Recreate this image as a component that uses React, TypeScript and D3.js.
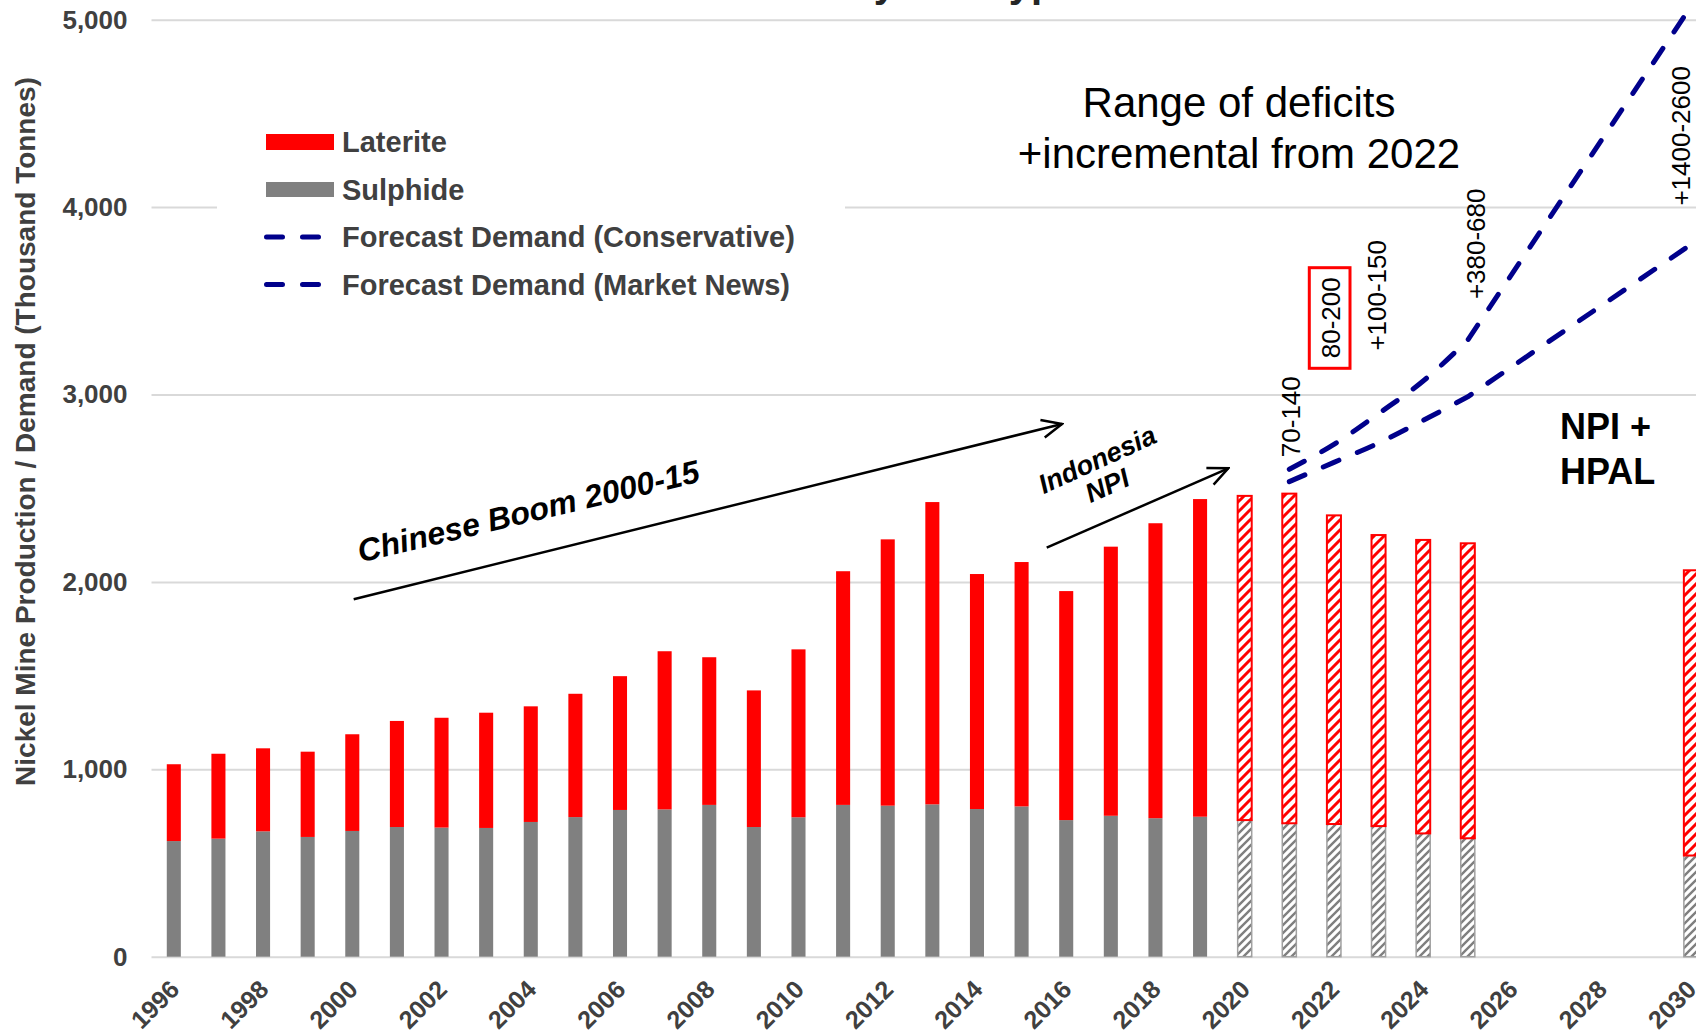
import { useEffect, useRef } from 'react';
import * as d3 from 'd3';

// Categories: one per year, 1996 - 2030
const years = [
  1996, 1997, 1998, 1999, 2000, 2001, 2002, 2003, 2004, 2005, 2006, 2007,
  2008, 2009, 2010, 2011, 2012, 2013, 2014, 2015, 2016, 2017, 2018, 2019,
  2020, 2021, 2022, 2023, 2024, 2025, 2026, 2027, 2028, 2029, 2030,
];

// Mine production (thousand tonnes)
const sulphide: (number | null)[] = [
  617, 630, 669, 639, 671, 692, 689, 687, 719, 745, 783, 786,
  810, 692, 744, 810, 806, 813, 788, 802, 729, 752, 739, 747,
  729, 712, 708, 697, 658, 632, null, null, null, null, 540,
];
const laterite: (number | null)[] = [
  410, 453, 443, 455, 516, 566, 586, 615, 617, 658, 714, 844,
  788, 729, 896, 1247, 1421, 1613, 1254, 1304, 1222, 1436, 1574, 1695,
  1730, 1759, 1647, 1553, 1566, 1574, null, null, null, null, 1522,
];

// Forecast demand (thousand tonnes)
const demandConservative: (number | null)[] = [
  null, null, null, null, null, null, null, null, null, null, null, null,
  null, null, null, null, null, null, null, null, null, null, null, null,
  null, 2535, 2638, 2741, 2862, 2988, null, null, null, null, 3800,
];
const demandMarketNews: (number | null)[] = [
  null, null, null, null, null, null, null, null, null, null, null, null,
  null, null, null, null, null, null, null, null, null, null, null, null,
  null, 2601, 2734, 2898, 3072, 3291, null, null, null, null, 5070,
];

const yTicks = [0, 1000, 2000, 3000, 4000, 5000];
const labelYears = years.filter(yr => yr % 2 === 0);
const firstForecastYear = 2020;

const W = 1696;
const H = 1033;
const FONT = '"Liberation Sans", Arial, Helvetica, sans-serif';
const AXIS_TEXT = '#404040';
const NAVY = '#00008b';

export default function App() {
  const svgRef = useRef<SVGSVGElement>(null);

  useEffect(() => {
    if (!svgRef.current) return;

    const svg = d3.select(svgRef.current);
    svg.selectAll('*').remove();

    const x = d3.scaleBand<number>()
      .domain(years)
      .range([151.5, 1713.2])
      .paddingInner(0.685)
      .paddingOuter(0.3425);
    const y = d3.scaleLinear().domain([0, 5000]).range([956.7, 19.7]);
    const cx = (yr: number) => (x(yr) as number) + x.bandwidth() / 2;

    // patterns + arrow marker
    const defs = svg.append('defs');
    const hatch = (id: string, color: string, size: number, sw: number) => {
      const p = defs.append('pattern')
        .attr('id', id)
        .attr('patternUnits', 'userSpaceOnUse')
        .attr('width', size)
        .attr('height', size);
      p.append('rect').attr('width', size).attr('height', size).attr('fill', '#fff');
      p.append('path')
        .attr('d', `M${-size / 4},${size / 4} l${size / 2},${-size / 2} M0,${size} l${size},${-size} M${size * 0.75},${size * 1.25} l${size / 2},${-size / 2}`)
        .attr('stroke', color)
        .attr('stroke-width', sw);
    };
    hatch('hatchRed', '#ff0000', 10, 3);
    hatch('hatchGray', '#7f7f7f', 8, 2.4);

    defs.append('marker')
      .attr('id', 'arrowHead')
      .attr('viewBox', '0 0 24 24')
      .attr('refX', 22)
      .attr('refY', 12)
      .attr('markerWidth', 24)
      .attr('markerHeight', 24)
      .attr('markerUnits', 'userSpaceOnUse')
      .attr('orient', 'auto')
      .append('path')
      .attr('d', 'M2,3 L22,12 L2,21')
      .attr('fill', 'none')
      .attr('stroke', '#000')
      .attr('stroke-width', 2.5);

    // title (cut off at the top of the picture, as in the original)
    svg.append('text')
      .attr('x', 396)
      .attr('y', -3)
      .attr('font-family', FONT)
      .attr('font-size', 40)
      .attr('font-weight', 'bold')
      .attr('fill', '#262626')
      .text('Nickel Mine Production by Ore Type');

    // gridlines + y labels
    const yAxis = svg.append('g')
      .attr('transform', 'translate(151.5,0)')
      .call(
        d3.axisLeft(y)
          .tickValues(yTicks)
          .tickSize(-(W - 151.5))
          .tickPadding(24)
          .tickFormat(d3.format(','))
      );
    yAxis.select('.domain').remove();
    yAxis.selectAll('line').attr('stroke', '#d9d9d9').attr('stroke-width', 2);
    yAxis.selectAll('text')
      .attr('font-family', FONT)
      .attr('font-size', 26)
      .attr('font-weight', 'bold')
      .attr('fill', AXIS_TEXT);

    // y axis title
    svg.append('text')
      .attr('transform', 'translate(35,431.5) rotate(-90)')
      .attr('text-anchor', 'middle')
      .attr('font-family', FONT)
      .attr('font-size', 28)
      .attr('font-weight', 'bold')
      .attr('fill', AXIS_TEXT)
      .text('Nickel Mine Production / Demand (Thousand Tonnes)');

    // x labels
    svg.append('g')
      .selectAll('text')
      .data(labelYears)
      .join('text')
      .attr('transform', d => `translate(${cx(d) + 7},991) rotate(-45)`)
      .attr('text-anchor', 'end')
      .attr('font-family', FONT)
      .attr('font-size', 25)
      .attr('font-weight', 'bold')
      .attr('fill', AXIS_TEXT)
      .text(d => String(d));

    // legend
    const legend = svg.append('g');
    legend.append('rect')
      .attr('x', 217).attr('y', 112).attr('width', 628).attr('height', 196)
      .attr('fill', '#fff');
    legend.append('rect')
      .attr('x', 266).attr('y', 134).attr('width', 68).attr('height', 16)
      .attr('fill', '#ff0000');
    legend.append('rect')
      .attr('x', 266).attr('y', 182).attr('width', 68).attr('height', 15)
      .attr('fill', '#808080');
    [237, 284.5].forEach(ly => {
      legend.append('line')
        .attr('x1', 266.5).attr('x2', 320.5).attr('y1', ly).attr('y2', ly)
        .attr('stroke', NAVY)
        .attr('stroke-width', 5)
        .attr('stroke-linecap', 'round')
        .attr('stroke-dasharray', '16 20');
    });
    const legendLabels = [
      'Laterite',
      'Sulphide',
      'Forecast Demand (Conservative)',
      'Forecast Demand (Market News)',
    ];
    const legendRows = [142, 189.5, 237, 284.5];
    legend.selectAll('text.item')
      .data(legendLabels)
      .join('text')
      .attr('class', 'item')
      .attr('x', 342)
      .attr('y', (_, i) => legendRows[i])
      .attr('dominant-baseline', 'central')
      .attr('font-family', FONT)
      .attr('font-size', 29)
      .attr('font-weight', 'bold')
      .attr('fill', AXIS_TEXT)
      .text(d => d);

    // bars
    const bars = years
      .map((yr, i) => ({ yr, s: sulphide[i], l: laterite[i] }))
      .filter(d => d.s != null && d.l != null) as { yr: number; s: number; l: number }[];

    const barG = svg.append('g');
    bars.forEach(d => {
      const forecast = d.yr >= firstForecastYear;
      const bx = x(d.yr) as number;
      const bw = x.bandwidth();

      barG.append('rect')
        .attr('x', bx)
        .attr('y', y(d.s))
        .attr('width', bw)
        .attr('height', y(0) - y(d.s))
        .attr('fill', forecast ? 'url(#hatchGray)' : '#808080')
        .attr('stroke', forecast ? '#a0a0a0' : 'none')
        .attr('stroke-width', 1.5);

      barG.append('rect')
        .attr('x', bx)
        .attr('y', y(d.s + d.l))
        .attr('width', bw)
        .attr('height', y(d.s) - y(d.s + d.l))
        .attr('fill', forecast ? 'url(#hatchRed)' : '#ff0000')
        .attr('stroke', forecast ? '#ff0000' : 'none')
        .attr('stroke-width', 2);
    });

    // demand lines: smooth through the yearly points, straight across the gap to 2030
    const drawDemand = (values: (number | null)[]) => {
      const pts = years
        .map((yr, i) => ({ yr, v: values[i] }))
        .filter(p => p.v != null) as { yr: number; v: number }[];
      const head = pts.slice(0, -1);
      const last = pts[pts.length - 1];
      const line = d3.line<{ yr: number; v: number }>()
        .x(p => cx(p.yr))
        .y(p => y(p.v))
        .curve(d3.curveMonotoneX);
      const d = `${line(head)}L${cx(last.yr)},${y(last.v)}`;
      svg.append('path')
        .attr('d', d)
        .attr('fill', 'none')
        .attr('stroke', NAVY)
        .attr('stroke-width', 5)
        .attr('stroke-linecap', 'round')
        .attr('stroke-dasharray', '17 20');
    };
    drawDemand(demandConservative);
    drawDemand(demandMarketNews);

    // annotations
    const ann = svg.append('g').attr('font-family', FONT).attr('fill', '#000');

    ann.append('text')
      .attr('x', 1239).attr('y', 117)
      .attr('text-anchor', 'middle')
      .attr('font-size', 42)
      .text('Range of deficits');
    ann.append('text')
      .attr('x', 1239).attr('y', 168)
      .attr('text-anchor', 'middle')
      .attr('font-size', 42)
      .text('+incremental from 2022');

    const vLabel = (text: string, bx: number, cy: number) => {
      ann.append('text')
        .attr('transform', `translate(${bx},${cy}) rotate(-90)`)
        .attr('text-anchor', 'middle')
        .attr('font-size', 26)
        .text(text);
    };
    vLabel('70-140', 1300, 416.7);
    vLabel('80-200', 1340, 317.8);
    vLabel('+100-150', 1386, 295.3);
    vLabel('+380-680', 1485, 243.8);
    vLabel('+1400-2600', 1690, 135.8);

    ann.append('rect')
      .attr('x', 1309.3).attr('y', 267.7).attr('width', 40.7).attr('height', 100.6)
      .attr('fill', 'none')
      .attr('stroke', '#ff0000')
      .attr('stroke-width', 3);

    ann.append('text')
      .attr('x', 1560).attr('y', 439)
      .attr('font-size', 36).attr('font-weight', 'bold')
      .text('NPI +');
    ann.append('text')
      .attr('x', 1560).attr('y', 484)
      .attr('font-size', 36).attr('font-weight', 'bold')
      .text('HPAL');

    // arrows
    ann.append('line')
      .attr('x1', 353.7).attr('y1', 599.2).attr('x2', 1062).attr('y2', 424)
      .attr('stroke', '#000').attr('stroke-width', 2.5)
      .attr('marker-end', 'url(#arrowHead)');
    ann.append('line')
      .attr('x1', 1046.7).attr('y1', 547.7).attr('x2', 1228.3).attr('y2', 468.3)
      .attr('stroke', '#000').attr('stroke-width', 2.5)
      .attr('marker-end', 'url(#arrowHead)');

    ann.append('text')
      .attr('transform', 'translate(531,522) rotate(-13.4)')
      .attr('text-anchor', 'middle')
      .attr('font-size', 32).attr('font-weight', 'bold').attr('font-style', 'italic')
      .text('Chinese Boom 2000-15');
    ann.append('text')
      .attr('transform', 'translate(1101,468) rotate(-24.5)')
      .attr('text-anchor', 'middle')
      .attr('font-size', 27).attr('font-weight', 'bold').attr('font-style', 'italic')
      .text('Indonesia');
    ann.append('text')
      .attr('transform', 'translate(1111,494) rotate(-24.5)')
      .attr('text-anchor', 'middle')
      .attr('font-size', 27).attr('font-weight', 'bold').attr('font-style', 'italic')
      .text('NPI');
  }, []);

  return (
    <svg
      ref={svgRef}
      width={W}
      height={H}
      style={{ position: 'absolute', left: 0, top: 0, display: 'block', background: '#fff' }}
    />
  );
}
